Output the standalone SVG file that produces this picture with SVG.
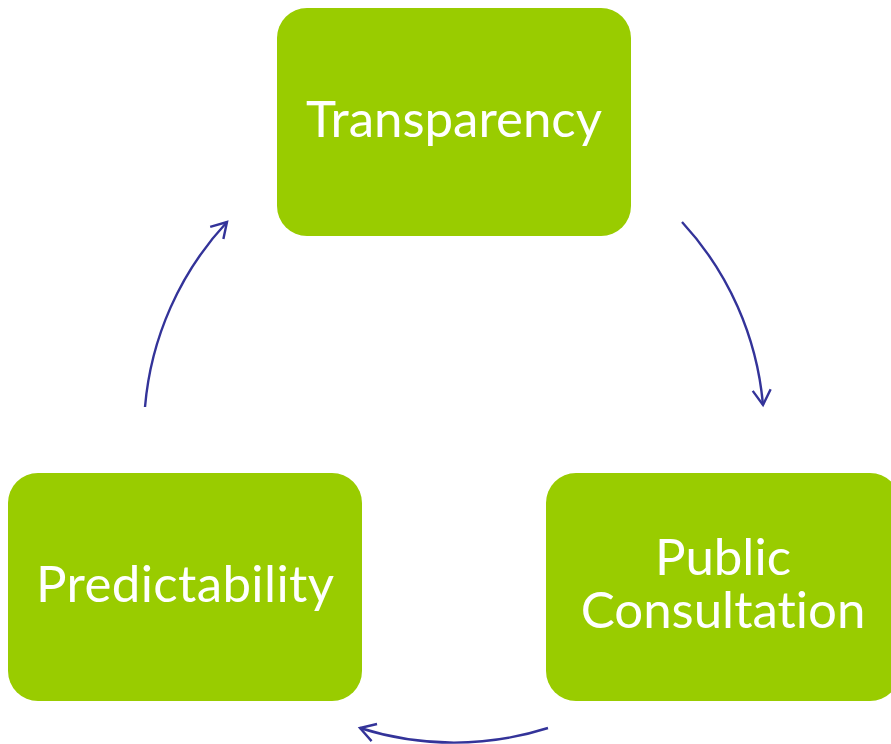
<svg xmlns="http://www.w3.org/2000/svg" width="891" height="744" viewBox="0 0 891 744">
<style>
.box{fill:#99CC00;}
.lbl{fill:#FFFFFF;font-family:Lato,"Open Sans","Liberation Sans",sans-serif;font-size:51px;text-anchor:middle;font-variant-ligatures:none;}
.conn{fill:none;stroke:#333399;stroke-width:2.4;}
</style>
<defs>
<marker id="ah" markerUnits="userSpaceOnUse" markerWidth="30" markerHeight="30" refX="18" refY="10" orient="auto" overflow="visible">
<path d="M3,1 L18,10 L3,19" fill="none" stroke="#333399" stroke-width="2.4"/>
</marker>
</defs>
<rect width="891" height="744" fill="#FFFFFF"/>
<g id="connectors">
<path class="conn" d="M682,222 A310,310 0 0,1 763,405" marker-end="url(#ah)"/>
<path class="conn" d="M548,728 A310,310 0 0,1 360,728" marker-end="url(#ah)"/>
<path class="conn" d="M145,407 A310,310 0 0,1 227,222" marker-end="url(#ah)"/>
</g>
<g id="transparency">
<rect class="box" x="277" y="8" width="354" height="228" rx="30"/>
<text class="lbl" x="454" y="137">Transparency</text>
</g>
<g id="public-consultation">
<rect class="box" x="546" y="473" width="354" height="228" rx="30"/>
<text class="lbl" x="723" y="575">Public</text>
<text class="lbl" x="723" y="628">Consultation</text>
</g>
<g id="predictability">
<rect class="box" x="8" y="473" width="354" height="228" rx="30"/>
<text class="lbl" x="185" y="602" textLength="298" lengthAdjust="spacing">Predictability</text>
</g>
</svg>
